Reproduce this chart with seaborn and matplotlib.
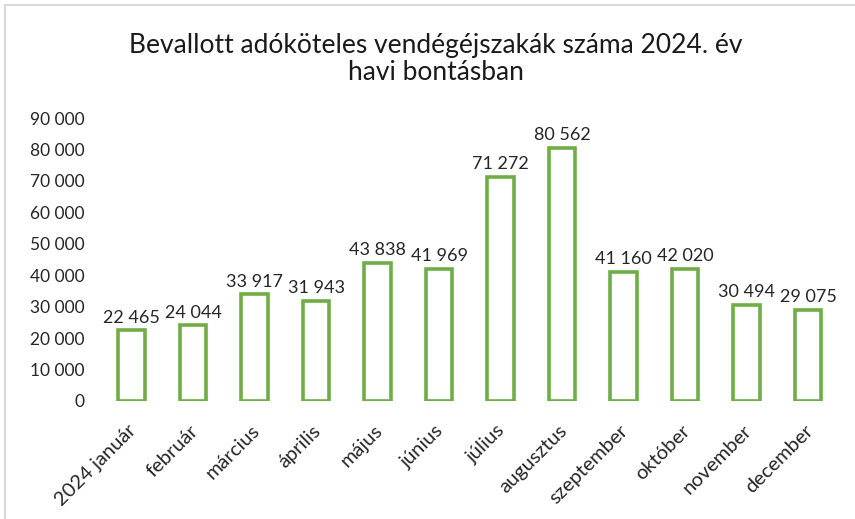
import matplotlib
matplotlib.use("Agg")
import matplotlib.pyplot as plt
import pandas as pd
import seaborn as sns
from matplotlib.patches import Rectangle
from matplotlib.ticker import FuncFormatter
from matplotlib.transforms import ScaledTranslation

months = ["2024 január", "február", "március", "április", "május", "június",
          "július", "augusztus", "szeptember", "október", "november", "december"]
nights = [22465, 24044, 33917, 31943, 43838, 41969,
          71272, 80562, 41160, 42020, 30494, 29075]
yticks = list(range(0, 90001, 10000))

title = "Bevallott adóköteles vendégéjszakák száma 2024. év\nhavi bontásban"
green = "#70AD47"


def fmt_hu(v, pos=None):
    return f"{int(v):,}".replace(",", " ")


sns.set_theme(style="white")
plt.rcParams["font.family"] = ["Lato", "DejaVu Sans"]

df = pd.DataFrame({"month": months, "nights": nights})

fig = plt.figure(figsize=(8.55, 5.19), dpi=100)
ax = fig.add_axes([0.118, 0.2274, 0.863, 0.5452])
sns.barplot(data=df, x="month", y="nights", ax=ax, color="white",
            edgecolor=green, linewidth=2.6, width=0.43, saturation=1)

for i, v in enumerate(nights):
    ax.text(i, v + 1500, fmt_hu(v), ha="center", va="bottom",
            fontsize=13, color="#262626")

ax.set_ylim(0, 90000)
ax.set_yticks(yticks)
ax.yaxis.set_major_formatter(FuncFormatter(fmt_hu))
ax.tick_params(axis="y", labelsize=12.5, colors="#262626", length=0, pad=11.5)
ax.tick_params(axis="x", labelsize=14.5, colors="#262626", length=0, pad=15)
shift = ScaledTranslation(-4 / 100, 0, fig.dpi_scale_trans)
for lab in ax.get_xticklabels():
    lab.set_rotation(45)
    lab.set_ha("right")
    lab.set_rotation_mode("anchor")
    lab.set_transform(lab.get_transform() + shift)
ax.set_xlabel("")
ax.set_ylabel("")
for s in ax.spines.values():
    s.set_visible(False)

fig.text(0.51, 0.886, title, ha="center", va="center", fontsize=19,
         color="#1a1a1a", linespacing=1.12)

fig.patches.append(Rectangle((5 / 855, -0.05), 1.2, 1 - 5 / 519 + 0.05,
                             transform=fig.transFigure, fill=False,
                             edgecolor="#d9d9d9", linewidth=1.5))

fig.savefig("out.png", dpi=100)
